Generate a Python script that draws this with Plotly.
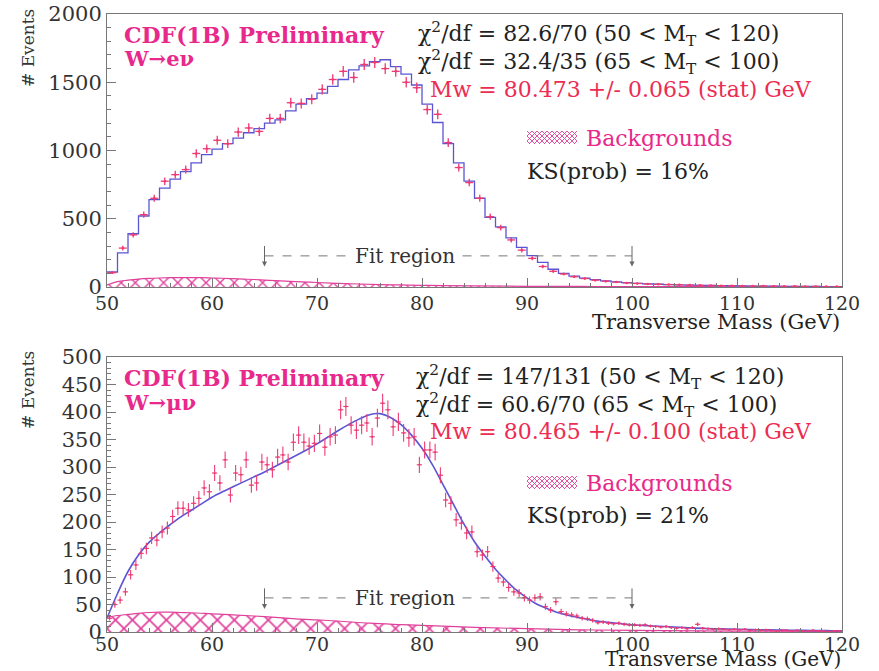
import base64
import numpy as np
import plotly.graph_objects as go

# ---------------- Electron channel: 1 GeV bins, 50-120 GeV ----------------
e_bin_lo = list(range(50, 120))
e_data = [105, 285, 382, 530, 650, 775, 823, 860, 978, 1013,
          1075, 1050, 1135, 1165, 1140, 1235, 1235, 1350, 1345, 1375,
          1448, 1520, 1580, 1535, 1630, 1645, 1600, 1580, 1500, 1460,
          1300, 1265, 1058, 875, 765, 650, 515, 435, 345, 270,
          210, 150, 115, 95, 75, 62, 50, 42, 36, 30,
          26, 22, 20, 18, 16, 14, 12, 11, 10, 9,
          8, 7, 7, 6, 5, 5, 4, 4, 3, 3]
e_fit = [110, 250, 390, 520, 640, 725, 790, 845, 910, 970,
         1010, 1050, 1090, 1130, 1160, 1200, 1225, 1290, 1340, 1380,
         1420, 1470, 1520, 1590, 1620, 1650, 1665, 1615, 1560, 1480,
         1340, 1205, 1050, 910, 775, 650, 510, 440, 360, 290,
         230, 180, 130, 100, 80, 65, 54, 45, 38, 32,
         27, 23, 20, 18, 16, 14, 12, 11, 10, 9,
         8, 7, 7, 6, 5, 5, 4, 4, 3, 3]
e_bkg_x = [50, 51, 52, 53, 54, 55, 56, 57, 58, 59, 60, 61, 62, 63, 64, 65, 66, 67, 68, 69,
           70, 72, 74, 76, 78, 80, 82, 85, 90, 95, 100, 110, 120]
e_bkg_y = [15, 40, 50, 58, 63, 66, 68, 69, 69, 68, 66, 64, 61, 58, 55, 51, 47, 43, 39, 36,
           33, 27, 22, 18, 15, 12, 10, 8, 5, 4, 3, 2, 1]

# ---------------- Muon channel: 0.5 GeV bins, 50-120 GeV ----------------
mu_data = [25, 50, 58, 73, 104, 122, 143, 152, 171, 167,
           182, 189, 210, 225, 225, 222, 234, 243, 262, 255,
           289, 271, 313, 249, 289, 286, 313, 267, 271, 309,
           304, 295, 318, 322, 309, 345, 358, 345, 338, 343,
           361, 336, 355, 358, 404, 410, 376, 367, 376, 380,
           355, 389, 416, 404, 373, 382, 362, 353, 355, 304,
           331, 331, 327, 285, 240, 234, 204, 198, 180, 182,
           146, 140, 146, 119, 98, 91, 81, 73, 71, 62,
           58, 62, 64, 46, 40, 55, 37, 33, 31, 29,
           25, 24, 21, 17, 18, 16, 15, 16, 14, 13,
           13, 12, 13, 11, 10, 9, 10, 8, 7, 8,
           6, 8, 14, 7, 6, 5, 6, 5, 4, 5,
           4, 5, 3, 4, 3, 4, 3, 2, 3, 3,
           2, 3, 2, 2, 3, 2, 2, 1, 2, 2]
mu_fit_x = list(range(50, 121))
mu_fit_y = [25, 70, 110, 140, 163, 180, 195, 209, 221, 233,
            245, 255, 264, 273, 282, 291, 301, 311, 321, 331,
            342, 354, 366, 377, 387, 395, 397, 390, 377, 358,
            334, 304, 268, 232, 196, 164, 138, 114, 94, 76,
            62, 50, 42, 35, 30, 26, 22, 19, 17, 15,
            13, 12, 11, 10, 9, 8, 7, 6.5, 6, 5.5,
            5, 4.5, 4, 3.8, 3.5, 3.2, 3, 2.8, 2.6, 2.4, 2.2]
mu_bkg_x = [50, 51, 52, 53, 54, 55, 56, 57, 58, 60, 62, 65, 68, 70, 72, 75, 78, 80, 85, 90,
            95, 100, 110, 120]
mu_bkg_y = [27, 30, 32, 34, 35.5, 36, 36, 35.5, 35, 33, 31, 28, 24, 22, 20, 16, 13.5, 12, 8.5, 6,
            4, 3, 1.5, 1]

# ---------------- styling ----------------
FONT = "DejaVu Serif"
PINK = "#ee3a72"
MAG = "#e8288a"
RED = "#ec2c52"
BLUE = "#5a55d4"
HATCH = "#e0409a"
GRID = "#777777"

e_x = [v + 0.5 for v in e_bin_lo]
mu_x = [50.25 + 0.5 * i for i in range(len(mu_data))]

fig = go.Figure()

# backgrounds (hatched fill + outline)
for bx, by, xa, ya, sz in [(e_bkg_x, e_bkg_y, "x", "y", 10),
                           (mu_bkg_x, mu_bkg_y, "x2", "y2", 12)]:
    fig.add_trace(go.Scatter(x=bx, y=by, mode="none", line=dict(shape="spline"),
                             fill="tozeroy", fillcolor="rgba(0,0,0,0)",
                             fillpattern=dict(shape="x", fgcolor=HATCH, bgcolor="rgba(0,0,0,0)",
                                              fgopacity=1, size=sz, solidity=0.25),
                             name="Backgrounds", showlegend=False, xaxis=xa, yaxis=ya))
    fig.add_trace(go.Scatter(x=bx, y=by, mode="lines", line=dict(color=HATCH, width=1.2, shape="spline"),
                             showlegend=False, xaxis=xa, yaxis=ya))

# electron fit histogram
fig.add_trace(go.Scatter(x=e_bin_lo + [120], y=e_fit + [e_fit[-1]], mode="lines",
                         line=dict(color=BLUE, width=1.3, shape="hv"), showlegend=False,
                         xaxis="x", yaxis="y"))
# muon fit curve
fig.add_trace(go.Scatter(x=mu_fit_x, y=mu_fit_y, mode="lines",
                         line=dict(color=BLUE, width=1.6, shape="spline"), showlegend=False,
                         xaxis="x2", yaxis="y2"))

# data points
fig.add_trace(go.Scatter(x=e_x, y=e_data, mode="markers",
                         marker=dict(color=PINK, size=2.5),
                         error_y=dict(type="data", array=list(np.sqrt(e_data)), color=PINK, thickness=1.3, width=0),
                         error_x=dict(type="constant", value=0.38, color=PINK, thickness=1.3, width=0),
                         showlegend=False, xaxis="x", yaxis="y"))
fig.add_trace(go.Scatter(x=mu_x, y=mu_data, mode="markers",
                         marker=dict(color=PINK, size=2),
                         error_y=dict(type="data", array=list(np.sqrt(mu_data) * 0.85), color=PINK, thickness=1.1, width=0),
                         error_x=dict(type="constant", value=0.25, color=PINK, thickness=1.1, width=0),
                         showlegend=False, xaxis="x2", yaxis="y2"))

def W(px):
    return px / 879.0

def H(py):
    return 1 - py / 671.0

xdom = [W(107), W(842)]

def xax(anchor, standoff):
    return dict(domain=xdom, anchor=anchor, range=[50, 120], dtick=10, tick0=50, automargin=False,
                ticks="inside", ticklen=9, tickcolor=GRID, showline=True, linecolor=GRID, linewidth=1,
                mirror=True, showgrid=False, zeroline=False, ticklabelstandoff=standoff,
                tickfont=dict(family=FONT, size=19, color="#333333"),
                minor=dict(dtick=2, ticks="inside", ticklen=4, tickcolor=GRID))

def yax(anchor, dom, rng, dt, mdt):
    return dict(domain=dom, anchor=anchor, range=rng, dtick=dt, tick0=0, automargin=False,
                ticks="inside", ticklen=9, tickcolor=GRID, showline=True, linecolor=GRID, linewidth=1,
                mirror=True, showgrid=False, zeroline=False,
                tickfont=dict(family=FONT, size=21, color="#333333"),
                minor=dict(dtick=mdt, ticks="inside", ticklen=4, tickcolor=GRID))

ann = []

def txt(x, y, s, color, size=22, xanchor="left", **kw):
    ann.append(dict(x=x, y=y, xref="paper", yref="paper", text=s, showarrow=False,
                    xanchor=xanchor, yanchor="middle", font=dict(family=FONT, size=size, color=color), **kw))

# top panel texts
txt(W(122), H(35), "<b>CDF(1B) Preliminary</b>", MAG, 22)
txt(W(122), H(59), "<b>W→eν</b>", MAG, 21)
txt(W(416), H(34), "χ<sup>2</sup>/df = 82.6/70 (50 &lt; M<sub>T</sub> &lt; 120)", "#222222", 22)
txt(W(416), H(62), "χ<sup>2</sup>/df = 32.4/35 (65 &lt; M<sub>T</sub> &lt; 100)", "#222222", 22)
txt(W(428), H(89), "Mw = 80.473 +/- 0.065 (stat) GeV", RED, 22)
txt(W(584), H(138), "Backgrounds", MAG, 22)
txt(W(525), H(172), "KS(prob) = 16%", "#222222", 22)
txt(W(842), H(322), "Transverse Mass (GeV)", "#222222", 21, xanchor="right")
txt(W(28), H(48), "# Events", "#333333", 17, xanchor="center", textangle=-90)

# bottom panel texts
txt(W(122), H(378), "<b>CDF(1B) Preliminary</b>", MAG, 22)
txt(W(122), H(402), "<b>W→μν</b>", MAG, 21)
txt(W(414), H(377), "χ<sup>2</sup>/df = 147/131 (50 &lt; M<sub>T</sub> &lt; 120)", "#222222", 22)
txt(W(414), H(405), "χ<sup>2</sup>/df = 60.6/70 (65 &lt; M<sub>T</sub> &lt; 100)", "#222222", 22)
txt(W(428), H(431), "Mw = 80.465 +/- 0.100 (stat) GeV", RED, 22)
txt(W(584), H(483), "Backgrounds", MAG, 22)
txt(W(525), H(515), "KS(prob) = 21%", "#222222", 22)
txt(W(843), H(659), "Transverse Mass (GeV)", "#222222", 20, xanchor="right")
txt(W(28), H(390), "# Events", "#333333", 17, xanchor="center", textangle=-90)

# fit region markers
shapes = []
for xr, yr, yline, tip in [("x", "y", 228, 150), ("x2", "y2", 62, 42)]:
    shapes.append(dict(type="line", xref=xr, yref=yr, x0=65, x1=100, y0=yline, y1=yline,
                       line=dict(color="#777777", width=1, dash="dash")))
    ann.append(dict(x=78.4, y=yline, xref=xr, yref=yr, text="Fit region", showarrow=False,
                    bgcolor="white", font=dict(family=FONT, size=20, color="#333333")))
    for xa in (65, 100):
        ann.append(dict(x=xa, y=tip, xref=xr, yref=yr, ax=0, ay=-22, text="", showarrow=True,
                        arrowhead=2, arrowsize=1, arrowwidth=1, arrowcolor="#666666"))

# hatched legend swatches
svg = ("<svg xmlns='http://www.w3.org/2000/svg' width='50' height='13'>"
       "<defs><pattern id='p' width='5' height='5' patternUnits='userSpaceOnUse'>"
       "<path d='M0,0 L5,5 M5,0 L0,5' stroke='%s' stroke-width='0.9'/></pattern></defs>"
       "<rect width='50' height='13' fill='url(#p)'/></svg>" % HATCH)
swatch = "data:image/svg+xml;base64," + base64.b64encode(svg.encode()).decode()
images = [dict(source=swatch, xref="paper", yref="paper", x=W(527), y=H(y0), sizex=W(50), sizey=13 / 671.0,
               xanchor="left", yanchor="top", sizing="stretch", layer="above")
          for y0 in (131, 476)]

fig.update_layout(
    width=879, height=671, margin=dict(l=0, r=0, t=0, b=0),
    paper_bgcolor="white", plot_bgcolor="white", showlegend=False,
    xaxis=xax("y", -1), yaxis=yax("x", [H(287), H(14)], [0, 2000], 500, 100),
    xaxis2=xax("y2", -5), yaxis2=yax("x2", [H(632), H(357)], [0, 500], 50, 10),
    annotations=ann, shapes=shapes, images=images,
)

fig.write_html("out.html")
